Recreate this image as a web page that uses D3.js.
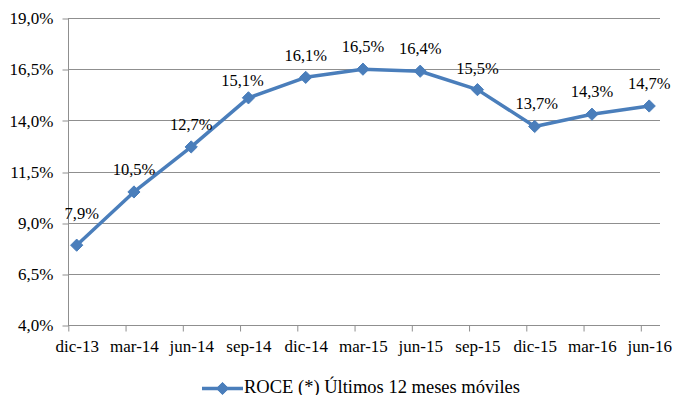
<!DOCTYPE html>
<html>
<head>
<meta charset="utf-8">
<script src="https://cdn.jsdelivr.net/npm/d3@7"></script>
</head>
<body style="margin:0;background:#fff">
<svg id="chart" width="674" height="395"></svg>
<script>
// ROCE, rolling 12 months, by quarter
const categories = ["dic-13", "mar-14", "jun-14", "sep-14", "dic-14", "mar-15",
                    "jun-15", "sep-15", "dic-15", "mar-16", "jun-16"];
const roceValues = [7.9, 10.5, 12.7, 15.1, 16.1, 16.5, 16.4, 15.5, 13.7, 14.3, 14.7];
const yTicks = [4.0, 6.5, 9.0, 11.5, 14.0, 16.5, 19.0];
const seriesName = "ROCE (*) Últimos 12 meses móviles";

// per-label nudges [dx, dy] relative to the default "above" placement
const labelNudge = [[5, -9], [0, 0], [0, 0], [-6, 5], [0, 1], [0, 0],
                    [0, 0], [0, 1], [2, 0], [0, 0], [0, 0]];

const serif = '"Liberation Serif", "Times New Roman", serif';
const svg = d3.select("#chart");
const fmt = v => d3.format(".1f")(v).replace(".", ",") + "%";

const plot = { left: 68, right: 660, top: 18, bottom: 325 };
const step = 57.25;

const x = d3.scalePoint()
  .domain(categories)
  .range([76.7, 76.7 + step * (categories.length - 1)]);
const y = d3.scaleLinear().domain([4, 19]).range([plot.bottom, plot.top]);

const gridColor = "#8f8f8f";

// horizontal gridlines
svg.append("g")
  .selectAll("line")
  .data(yTicks)
  .join("line")
  .attr("x1", plot.left).attr("x2", plot.right)
  .attr("y1", d => Math.round(y(d)) + 0.5).attr("y2", d => Math.round(y(d)) + 0.5)
  .attr("stroke", gridColor).attr("stroke-width", 1);

// y axis
const yAxis = svg.append("g")
  .attr("transform", `translate(${plot.left + 0.5},0)`)
  .call(d3.axisLeft(y).tickValues(yTicks).tickFormat(fmt).tickSize(6).tickPadding(9))
  .attr("font-family", null);
yAxis.select(".domain").attr("stroke", gridColor)
  .attr("d", `M0,${plot.top}V${plot.bottom}`);
yAxis.selectAll(".tick line").attr("stroke", gridColor)
  .attr("transform", d => `translate(0,${Math.round(y(d)) + 0.5 - y(d)})`);
yAxis.selectAll(".tick text")
  .attr("font-size", 17).attr("fill", "#000")
  .style("font-family", serif)
  .attr("dy", "0.34em");

// x axis: ticks sit on category boundaries, labels on categories
const xAxis = svg.append("g")
  .attr("transform", `translate(0,${Math.round(plot.bottom) + 0.5})`)
  .call(d3.axisBottom(x).tickSize(6).tickPadding(8))
  .attr("font-family", null);
xAxis.select(".domain").remove();
xAxis.selectAll(".tick line")
  .attr("stroke", gridColor)
  .attr("x1", -8.4).attr("x2", -8.4);
xAxis.selectAll(".tick text")
  .attr("font-size", 17).attr("fill", "#000")
  .style("font-family", serif)
  .attr("dy", "0.76em");

const blue = "#4a7ebb";

// series line
const line = d3.line()
  .x((d, i) => x(categories[i]))
  .y(d => y(d));
svg.append("path")
  .datum(roceValues)
  .attr("d", line)
  .attr("fill", "none")
  .attr("stroke", blue)
  .attr("stroke-width", 3.5)
  .attr("stroke-linejoin", "round");

// diamond markers
const diamond = d3.symbol().type(d3.symbolDiamond2).size(95);
svg.append("g")
  .selectAll("path")
  .data(roceValues)
  .join("path")
  .attr("d", diamond)
  .attr("transform", (d, i) => `translate(${x(categories[i])},${y(d)})`)
  .attr("fill", blue)
  .attr("stroke", blue)
  .attr("stroke-width", 1);

// value labels
svg.append("g")
  .selectAll("text")
  .data(roceValues)
  .join("text")
  .attr("x", (d, i) => x(categories[i]) + labelNudge[i][0])
  .attr("y", (d, i) => y(d) - 17 + labelNudge[i][1])
  .attr("text-anchor", "middle")
  .attr("font-size", 16.5)
  .style("font-family", serif)
  .attr("fill", "#000")
  .text(fmt);

// legend
const legend = svg.append("g").attr("transform", "translate(202,388.5)");
legend.append("line")
  .attr("x1", 0).attr("x2", 41).attr("y1", 0).attr("y2", 0)
  .attr("stroke", blue).attr("stroke-width", 3.5);
legend.append("path")
  .attr("d", diamond)
  .attr("transform", "translate(20.5,0)")
  .attr("fill", blue).attr("stroke", blue);
legend.append("text")
  .attr("x", 42).attr("y", 4)
  .attr("font-size", 18.5).attr("fill", "#000")
  .style("font-family", serif)
  .text(seriesName);
</script>
</body>
</html>
